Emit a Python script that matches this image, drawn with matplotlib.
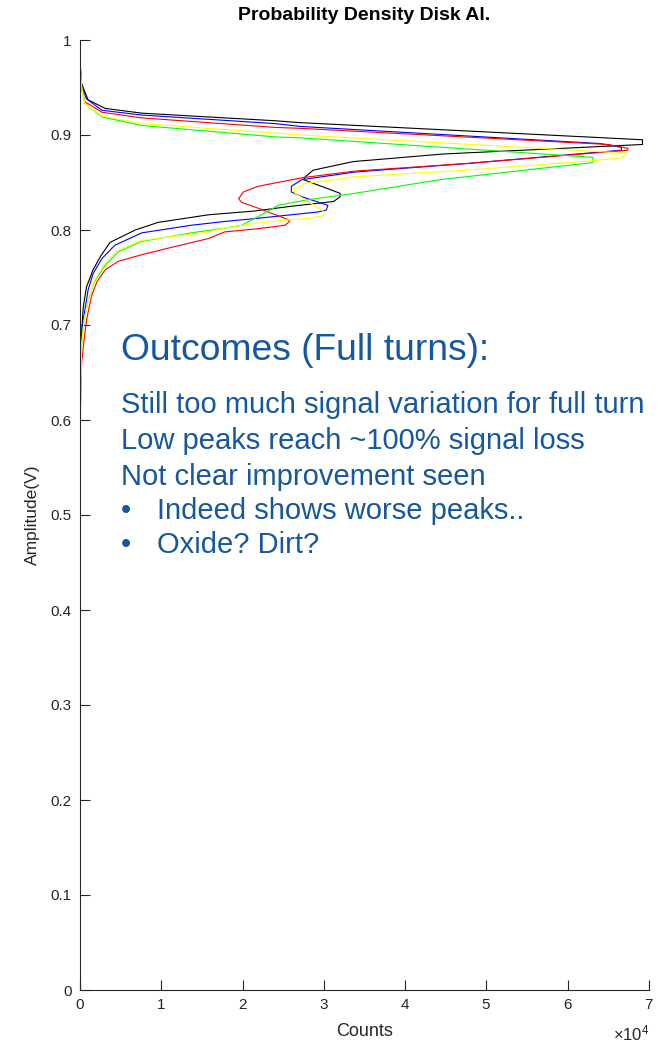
import matplotlib
matplotlib.use("Agg")
import matplotlib.pyplot as plt
from matplotlib.ticker import ScalarFormatter, FuncFormatter

plt.rcParams['font.family'] = ['Liberation Sans', 'DejaVu Sans']
plt.rcParams['mathtext.fontset'] = 'custom'
plt.rcParams['mathtext.rm'] = 'Liberation Sans'

# ---- data (counts, amplitude in V) ----
black_counts = [0, 0, 100, 200, 400, 800, 1600, 2500, 3700, 6800, 9600, 15800, 21500, 26000, 31200, 32000,
                32000, 27500, 27700, 28700, 33600, 44700, 69200, 69200, 27100, 24000, 15800, 7600, 3100,
                1000, 200, 50, 0]
black_amp = [0, 0.60, 0.66, 0.691, 0.719, 0.740, 0.758, 0.772, 0.787, 0.800, 0.808, 0.816, 0.820, 0.825,
             0.830, 0.835, 0.8386, 0.853, 0.856, 0.863, 0.872, 0.880, 0.890, 0.895, 0.913, 0.915, 0.919,
             0.923, 0.928, 0.937, 0.954, 0.97, 1.0]

blue_counts = [0, 0, 100, 300, 600, 1000, 1600, 2700, 4300, 7600, 13700, 17800, 21500, 29300, 30300, 30500,
               27300, 26000, 26000, 27300, 33800, 47600, 66600, 66600, 64000, 27100, 24000, 7600, 2700, 800,
               200, 50, 0]
blue_amp = [0, 0.60, 0.67, 0.70, 0.716, 0.737, 0.754, 0.770, 0.784, 0.797, 0.805, 0.809, 0.812, 0.819,
            0.821, 0.826, 0.835, 0.840, 0.846, 0.853, 0.861, 0.870, 0.884, 0.887, 0.891, 0.909, 0.912,
            0.921, 0.926, 0.938, 0.952, 0.97, 1.0]

red_counts = [0, 0, 200, 500, 800, 1400, 2100, 3100, 4700, 7600, 10900, 15800, 17800, 21500, 25200, 25800,
              25600, 21900, 19900, 19500, 20100, 21900, 27300, 33800, 47600, 67400, 67400, 65000, 27100,
              24000, 7600, 2700, 600, 200, 50, 0]
red_amp = [0, 0.60, 0.66, 0.684, 0.705, 0.730, 0.746, 0.758, 0.767, 0.774, 0.781, 0.791, 0.798, 0.801,
           0.805, 0.809, 0.811, 0.823, 0.829, 0.833, 0.840, 0.846, 0.855, 0.862, 0.870, 0.884, 0.886,
           0.890, 0.907, 0.908, 0.918, 0.924, 0.935, 0.950, 0.97, 1.0]

green_counts = [0, 0, 200, 500, 1000, 1800, 3100, 4700, 7600, 13700, 17800, 19900, 20300, 21900, 24400,
                28100, 33800, 44300, 63100, 63100, 27100, 24000, 7600, 2700, 600, 200, 50, 0]
green_amp = [0, 0.58, 0.68, 0.705, 0.726, 0.746, 0.763, 0.777, 0.788, 0.797, 0.802, 0.805, 0.807, 0.814,
             0.826, 0.832, 0.8386, 0.853, 0.871, 0.8765, 0.897, 0.898, 0.910, 0.919, 0.933, 0.950, 0.97, 1.0]

yellow_counts = [0, 0, 200, 500, 1000, 1800, 3000, 4500, 7600, 15800, 17800, 21500, 26000, 28100, 29900,
                 30100, 26400, 26400, 27700, 31200, 33800, 47600, 63100, 66600, 67200, 27100, 24000, 7600,
                 2700, 600, 200, 50, 0]
yellow_amp = [0, 0.58, 0.68, 0.705, 0.726, 0.747, 0.764, 0.778, 0.789, 0.798, 0.802, 0.807, 0.811, 0.812,
              0.815, 0.819, 0.839, 0.844, 0.849, 0.853, 0.856, 0.863, 0.873, 0.876, 0.881, 0.900, 0.902,
              0.912, 0.920, 0.933, 0.950, 0.97, 1.0]

x_ticks = [0, 10000, 20000, 30000, 40000, 50000, 60000, 70000]
y_ticks = [0, 0.1, 0.2, 0.3, 0.4, 0.5, 0.6, 0.7, 0.8, 0.9, 1.0]

title_text = "Probability Density Disk Al."
heading = "Outcomes (Full turns):"
plain_lines = ["Still too much signal variation for full turn",
               "Low peaks reach ~100% signal loss",
               "Not clear improvement seen"]
bullet_lines = ["Indeed shows worse peaks..", "Oxide? Dirt?"]

# ---- figure ----
W, H = 658, 1042
fig = plt.figure(figsize=(W / 100, H / 100), dpi=100)
ax = fig.add_axes([80 / W, 52 / H, 569 / W, 950 / H])

series = [(black_counts, black_amp, 'black'),
          (blue_counts, blue_amp, '#0000ff'),
          (red_counts, red_amp, '#ff0000'),
          (green_counts, green_amp, '#00ff00'),
          (yellow_counts, yellow_amp, '#ffff00')]
for xs, ys, c in series:
    ax.plot(xs, ys, color=c, lw=0.8, solid_joinstyle='miter')

ax.set_xlim(0, 70000)
ax.set_ylim(0, 1)
ax.set_xticks(x_ticks)
ax.set_yticks(y_ticks)
fmt = ScalarFormatter(useMathText=True)
fmt.set_powerlimits((-3, 3))
ax.xaxis.set_major_formatter(fmt)
ax.yaxis.set_major_formatter(FuncFormatter(lambda v, p: ('%g' % round(v, 2))))

for s in ['top', 'right']:
    ax.spines[s].set_visible(False)
for s in ['left', 'bottom']:
    ax.spines[s].set_color('#262626')
    ax.spines[s].set_linewidth(0.8)
ax.tick_params(direction='in', length=7, width=0.8, colors='#262626', labelsize=11, pad=6)
ax.xaxis.get_offset_text().set_fontsize(12)
ax.xaxis.get_offset_text().set_color('#262626')
ax.xaxis.OFFSETTEXTPAD = 8

ax.set_xlabel("Counts", fontsize=13, color='#262626')
ax.xaxis.set_label_coords(0.5, -(1031 - 990) / 950)
ax.xaxis.label.set_va('center')
ax.set_ylabel("Amplitude(V)", fontsize=12.5, color='#262626')
ax.yaxis.set_label_coords(-(80 - 32) / 569, 0.5)
ax.yaxis.label.set_va('center')

fig.text(364.5 / W, 1 - 16 / H, title_text, ha='center', va='center', fontsize=14, fontweight='bold')

blue_txt = '#1557a0'
fig.text(121 / W, 1 - 351 / H, heading, ha='left', va='center', fontsize=26.8, color=blue_txt)
ys_px = [405, 441, 477]
for t, yp in zip(plain_lines, ys_px):
    fig.text(121 / W, 1 - yp / H, t, ha='left', va='center', fontsize=21, color=blue_txt)
for t, yp in zip(bullet_lines, [511, 545]):
    fig.text(121 / W, 1 - yp / H, "\u2022", ha='left', va='center', fontsize=21, color=blue_txt)
    fig.text(157 / W, 1 - yp / H, t, ha='left', va='center', fontsize=21, color=blue_txt)

fig.savefig("out.png", dpi=100)
